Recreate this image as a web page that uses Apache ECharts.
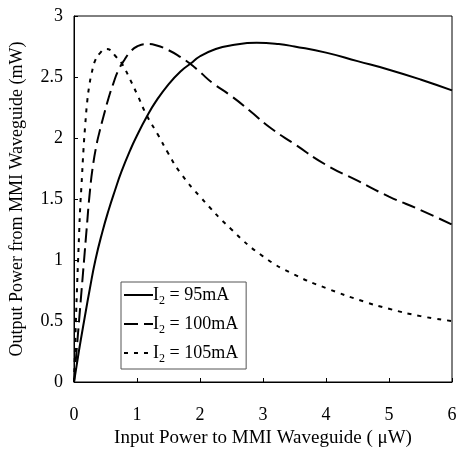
<!DOCTYPE html>
<html>
<head>
<meta charset="utf-8">
<script src="https://cdn.jsdelivr.net/npm/echarts@6/dist/echarts.min.js"></script>
<style>
  html, body { margin: 0; padding: 0; background: #fff; }
  #chart { width: 461px; height: 455px; }
</style>
</head>
<body>
<div id="chart"></div>
<script>
  // 読み取った値 (x: uW, y: mW)
  const x95 = [0, 0.08, 0.16, 0.25, 0.34, 0.45, 0.55, 0.65, 0.75, 0.9, 1.0, 1.15, 1.3, 1.5, 1.7, 1.85, 2.0, 2.25, 2.5, 2.9, 3.25, 3.5, 4.0, 4.5, 5.0, 5.5, 6.0]
  const y95 = [0, 0.26, 0.5, 0.76, 1.0, 1.23, 1.41, 1.57, 1.72, 1.91, 2.02, 2.17, 2.30, 2.44, 2.55, 2.61, 2.67, 2.73, 2.76, 2.78, 2.77, 2.75, 2.70, 2.63, 2.56, 2.48, 2.39]

  const x100 = [0, 0.04, 0.08, 0.12, 0.16, 0.2, 0.25, 0.3, 0.36, 0.4, 0.47, 0.55, 0.62, 0.7, 0.8, 0.9, 1.0, 1.15, 1.3, 1.5, 1.7, 1.84, 2.0, 2.2, 2.48, 2.8, 3.1, 3.5, 4.0, 4.5, 5.0, 5.5, 6.0]
  const y100 = [0, 0.25, 0.5, 0.75, 1.0, 1.25, 1.55, 1.77, 1.95, 2.04, 2.18, 2.33, 2.44, 2.55, 2.64, 2.71, 2.75, 2.77, 2.76, 2.72, 2.66, 2.61, 2.54, 2.45, 2.35, 2.22, 2.09, 1.95, 1.78, 1.65, 1.52, 1.41, 1.29]

  const x105 = [0, 0.015, 0.03, 0.05, 0.065, 0.08, 0.1, 0.12, 0.15, 0.18, 0.21, 0.24, 0.28, 0.34, 0.42, 0.5, 0.58, 0.66, 0.76, 0.89, 1.0, 1.15, 1.34, 1.5, 1.68, 2.0, 2.5, 3.0, 3.5, 4.0, 4.6, 5.0, 5.5, 6.0]
  const y105 = [0, 0.25, 0.5, 0.8, 1.0, 1.2, 1.45, 1.62, 1.9, 2.12, 2.30, 2.42, 2.53, 2.64, 2.70, 2.73, 2.72, 2.67, 2.61, 2.48, 2.36, 2.19, 2.02, 1.87, 1.72, 1.52, 1.25, 1.03, 0.88, 0.77, 0.66, 0.60, 0.54, 0.50]

  const seriesNames = ['I{s|2} = 95mA', 'I{s|2} = 100mA', 'I{s|2} = 105mA']

  const serif = '"Liberation Serif", "DejaVu Serif", serif'

  function pairs(xs, ys) {
    return xs.map((x, i) => [x, ys[i]])
  }

  const myChart = echarts.init(document.getElementById('chart'), null, { renderer: 'canvas' })

  const option = {
    backgroundColor: '#fff',
    animation: false,
    textStyle: { fontFamily: serif, color: '#000' },
    grid: {
      left: 74,
      top: 16,
      right: 9,
      bottom: 73,
      show: true,
      borderColor: '#000',
      borderWidth: 1
    },
    legend: {
      orient: 'vertical',
      left: 121,
      top: 282,
      width: 126,
      padding: [4, 8, 4, 2],
      itemWidth: 29,
      itemHeight: 18,
      itemGap: 8,
      backgroundColor: '#fff',
      borderColor: '#555',
      borderWidth: 1,
      itemStyle: { opacity: 0 },
      data: seriesNames,
      textStyle: {
        fontFamily: serif,
        fontSize: 18,
        color: '#000',
        padding: [0, 0, 0, -5],
        rich: {
          s: { fontSize: 12, fontFamily: serif, padding: [12, 0, 0, 0] }
        }
      }
    },
    xAxis: {
      type: 'value',
      min: 0,
      max: 6,
      interval: 1,
      name: 'Input Power to MMI Waveguide ( μW)',
      nameLocation: 'middle',
      nameGap: 47,
      nameTextStyle: { fontFamily: serif, fontSize: 19, color: '#000' },
      axisLine: { lineStyle: { color: '#000', width: 1 } },
      axisTick: { inside: true, length: 4, lineStyle: { color: '#000' } },
      axisLabel: { margin: 24, fontFamily: serif, fontSize: 18, color: '#000' },
      splitLine: { show: false }
    },
    yAxis: {
      type: 'value',
      min: 0,
      max: 3,
      interval: 0.5,
      name: 'Output Power from MMI Waveguide (mW)',
      nameLocation: 'middle',
      nameGap: 48,
      nameTextStyle: { fontFamily: serif, fontSize: 18, color: '#000' },
      axisLine: { show: true, lineStyle: { color: '#000', width: 1 } },
      axisTick: { show: true, inside: true, length: 4, lineStyle: { color: '#000' } },
      axisLabel: { margin: 11, fontFamily: serif, fontSize: 18, color: '#000' },
      splitLine: { show: false }
    },
    series: [
      {
        name: seriesNames[0],
        type: 'line',
        data: pairs(x95, y95),
        smooth: 0.5,
        symbol: 'none',
        itemStyle: { color: '#000' },
        lineStyle: { color: '#000', width: 2, type: 'solid' }
      },
      {
        name: seriesNames[1],
        type: 'line',
        data: pairs(x100, y100),
        smooth: 0.5,
        symbol: 'none',
        itemStyle: { color: '#000' },
        lineStyle: { color: '#000', width: 2, type: [14, 6] }
      },
      {
        name: seriesNames[2],
        type: 'line',
        data: pairs(x105, y105),
        smooth: 0.5,
        symbol: 'none',
        itemStyle: { color: '#000' },
        lineStyle: { color: '#000', width: 2, type: [4, 6] }
      }
    ]
  }

  myChart.setOption(option)
</script>
</body>
</html>
